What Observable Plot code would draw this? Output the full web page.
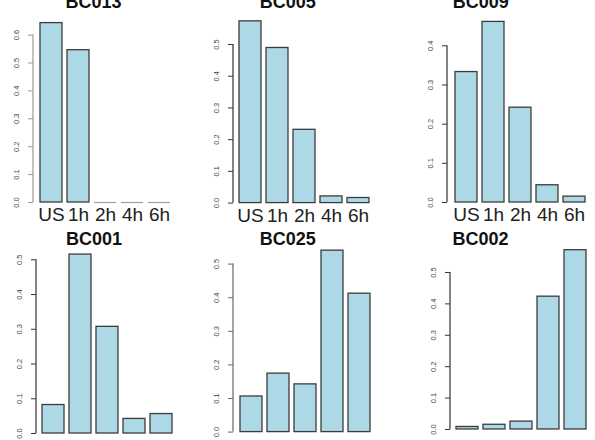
<!DOCTYPE html>
<html>
<head>
<meta charset="utf-8">
<script src="https://cdn.jsdelivr.net/npm/d3@7"></script>
<script src="https://cdn.jsdelivr.net/npm/@observablehq/plot@0.6"></script>
<style>
  html, body { margin: 0; padding: 0; background: #fff; }
  #chart { position: relative; width: 595px; height: 440px; overflow: hidden; background: #fff; }
  #chart svg { position: absolute; overflow: visible; max-width: none; }
</style>
</head>
<body>
<div id="chart"></div>
<script>
// ---- data ----
const categories = ["US", "1h", "2h", "4h", "6h"];
const names = ["BC013", "BC005", "BC009", "BC001", "BC025", "BC002"];
const BC013 = [0.643, 0.546, 0, 0, 0];
const BC005 = [0.573, 0.489, 0.231, 0.021, 0.016];
const BC009 = [0.333, 0.461, 0.242, 0.044, 0.015];
const BC001 = [0.082, 0.515, 0.307, 0.042, 0.056];
const BC025 = [0.106, 0.174, 0.142, 0.540, 0.412];
const BC002 = [0.008, 0.015, 0.025, 0.423, 0.571];
const seriesValues = [BC013, BC005, BC009, BC001, BC025, BC002];
const tickTops = [0.6, 0.5, 0.4, 0.5, 0.5, 0.5];

// ---- layout (page pixels) ----
const layout = [
  {axisX: 33,    barL: 39.3,  barR: 171.5, y0: 201.7, yTop: 34.3,  titleX: 93,    titleTop: -5.3, axisColor: "#9a9a9a", showX: true},
  {axisX: 232.7, barL: 237.3, barR: 371.3, y0: 202.3, yTop: 43.7,  titleX: 287,   titleTop: -5.3, axisColor: "#333", showX: true},
  {axisX: 446.7, barL: 453.3, barR: 585.7, y0: 201.7, yTop: 45,    titleX: 480,   titleTop: -5.3, axisColor: "#333", showX: true},
  {axisX: 36,    barL: 41.7,  barR: 173,   y0: 432.7, yTop: 259,   titleX: 93.5,  titleTop: 231.7, axisColor: "#333", showX: false},
  {axisX: 233.3, barL: 239.3, barR: 372.3, y0: 431.3, yTop: 263.3, titleX: 287.5, titleTop: 231.7, axisColor: "#666", showX: false},
  {axisX: 450,   barL: 456,   barR: 586.7, y0: 428.7, yTop: 271.7, titleX: 480,   titleTop: 231.7, axisColor: "#333", showX: false}
];

const container = document.getElementById("chart");
const fmt = d3.format(".1f");

names.forEach((name, p) => {
  const L = layout[p];
  const values = seriesValues[p];
  const data = categories.map((c, i) => ({cat: c, value: values[i]}));
  const ticks = d3.range(0, tickTops[p] + 1e-9, 0.1).map(v => +v.toFixed(1));

  const mL = 30, mR = 6, mT = 10, mB = 30;
  const sx = L.axisX - mL;
  const sy = L.titleTop - mT;
  const W = (L.barR - sx) + mR;
  const H = (L.y0 - sy) + mB;

  const marks = [
    Plot.barY(data, {x: "cat", y: "value", fill: "#ADD8E6", stroke: "#3c3c3c", strokeWidth: 1.3}),
    Plot.tickY(data.filter(d => d.value === 0), {x: "cat", y: "value", stroke: "#a0a0a0", strokeWidth: 1.2}),
    Plot.axisY({ticks, tickSize: 5, tickFormat: () => "", stroke: L.axisColor, label: null}),
    Plot.text(ticks, {y: d => d, text: d => fmt(d), frameAnchor: "left", dx: -17, rotate: -90,
      textAnchor: "middle", lineAnchor: "middle", fontSize: 7.5, fill: "#444"}),
    Plot.text([name], {frameAnchor: "top-left", dx: L.titleX - L.axisX, textAnchor: "middle",
      lineAnchor: "top", fontSize: 18, fontWeight: "bold", fill: "#111"})
  ];
  marks.push(L.showX
    ? Plot.axisX({tickSize: 0, tickPadding: 5, fontSize: 19, fill: "#222", label: null})
    : Plot.axisX({tickSize: 0, tickFormat: () => "", label: null}));

  const plot = Plot.plot({
    width: W,
    height: H,
    marginLeft: mL,
    marginRight: mR,
    marginTop: mT,
    marginBottom: mB,
    style: {fontFamily: "'Liberation Sans', Arial, Helvetica, sans-serif", background: "transparent", overflow: "visible"},
    x: {domain: categories, range: [L.barL - sx, L.barR - sx], paddingInner: 0.2 / 1.2, paddingOuter: 0, label: null},
    y: {domain: [0, tickTops[p]], range: [L.y0 - sy, L.yTop - sy], label: null},
    marks
  });

  // axis line from first to last tick, using Plot's y scale
  const ys = plot.scale("y");
  d3.select(plot).append("line")
    .attr("x1", mL).attr("x2", mL)
    .attr("y1", ys.apply(0)).attr("y2", ys.apply(tickTops[p]))
    .attr("stroke", L.axisColor).attr("stroke-width", 1.2);

  plot.style.left = sx + "px";
  plot.style.top = sy + "px";
  container.appendChild(plot);
});
</script>
</body>
</html>
